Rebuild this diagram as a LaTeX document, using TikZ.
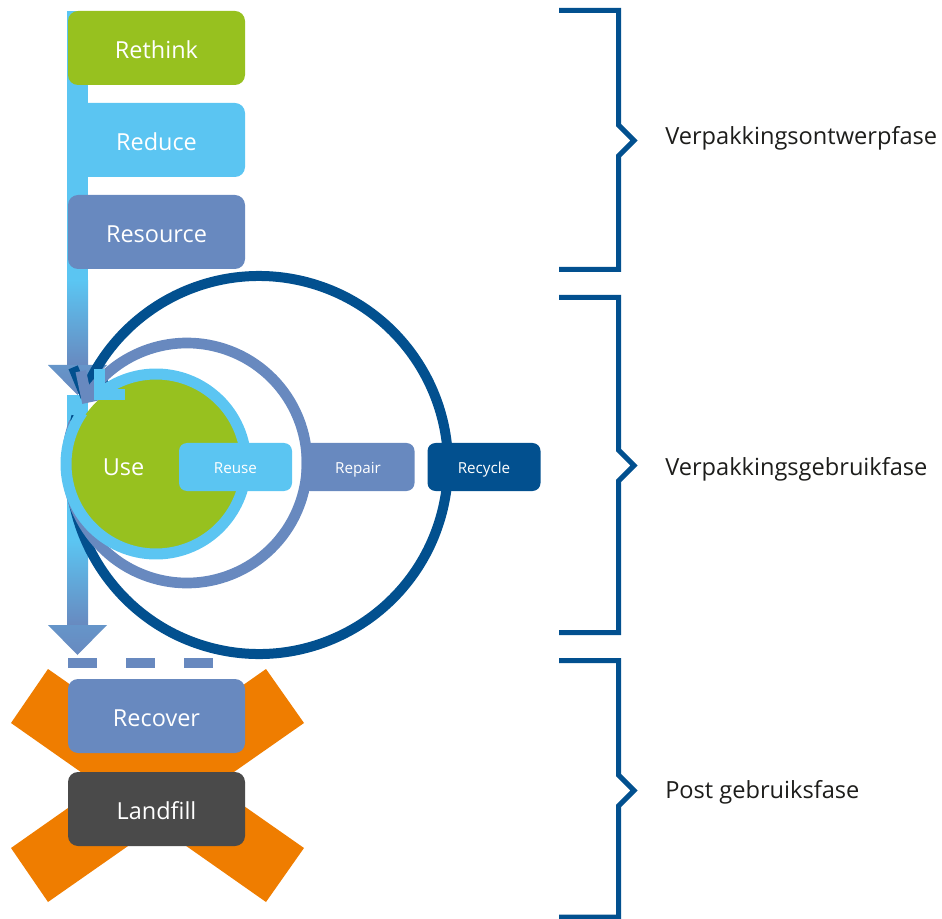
\documentclass[tikz,border=0pt]{standalone}
\usepackage{fontspec}
\setmainfont{Open Sans}
\usetikzlibrary{calc}
\definecolor{cgreen}{HTML}{97C11F}
\definecolor{clight}{HTML}{5BC5F2}
\definecolor{cmid}{HTML}{6889BF}
\definecolor{cdark}{HTML}{02508F}
\definecolor{corange}{HTML}{EF7D00}
\definecolor{cgrey}{HTML}{4A4A4A}
\definecolor{ctext}{HTML}{1D1D1B}
\tikzset{
  bigbox/.style={rounded corners=7.5pt, minimum width=132.75pt, minimum height=55.5pt,
    text=white, font=\fontsize{17.6}{20}\selectfont, inner sep=0pt,
    text height=15.5pt, text depth=0pt},
  smallbox/.style={rounded corners=6pt, minimum width=84.75pt, minimum height=36pt,
    text=white, font=\fontsize{11.4}{13}\selectfont, inner sep=0pt,
    text height=10.3pt, text depth=0pt},
  phase/.style={anchor=west, text=ctext, font=\fontsize{17.7}{20}\selectfont,
    inner sep=0pt, text height=12.6pt, text depth=0pt},
  bracket/.style={cdark, line width=3.75pt, line join=miter},
  chev/.style={line join=miter, miter limit=10}
}
\begin{document}
\begin{tikzpicture}[x=0.75pt,y=0.75pt]
\useasboundingbox (0,0) rectangle (942,-919);

% vertical flow arrow (top part)
\fill[clight] (67,-11) rectangle (88,-282);
\shade[top color=clight, bottom color=cmid] (67,-281) rectangle (88,-366);
\shade[top color=cmid!80!clight, bottom color=cmid] (48,-365) -- (107,-365) -- (77.5,-395) -- cycle;
% vertical flow arrow (bottom part)
\fill[clight] (67,-395) rectangle (88,-541);
\shade[top color=clight, bottom color=cmid] (67,-540) rectangle (88,-626);
\shade[top color=cmid!80!clight, bottom color=cmid] (48,-625) -- (107,-625) -- (77.5,-655) -- cycle;

% design phase boxes
\node[bigbox, fill=cgreen] (rethink) at (156.5,-48) {Rethink};
\node[bigbox, fill=clight] (reduce) at (156.5,-140) {Reduce};
\node[bigbox, fill=cmid] (resource) at (156.5,-232) {Resource};

% recycle loop
\coordinate (cR) at (259,-465);
\draw[cdark, line width=7.5pt] ($(cR)+(165:189)$) arc[start angle=165, end angle=517.5, radius=189];
\coordinate (dk) at (83.5,-392.3);
\draw[cdark, line width=7.5pt, chev] ($(dk)+(112.5:27)$) -- (dk) -- ($(dk)+(22.5:27)$);

% repair loop
\coordinate (cP) at (187,-463);
\draw[cmid, line width=8pt] ($(cP)+(160:120)$) arc[start angle=160, end angle=507, radius=120];
\coordinate (md) at (86.4,-397.6);
\draw[cmid, line width=8pt, chev] ($(md)+(102:27)$) -- (md) -- ($(md)+(12:27)$);

% use / reuse loop
\coordinate (cU) at (156,-464);
\fill[cgreen] (cU) circle[radius=86];
\draw[clight, line width=8.25pt] ($(cU)+(145:90)$) arc[start angle=145, end angle=490, radius=90];
\coordinate (lt) at (99,-395);
\draw[clight, line width=8.25pt, chev] (99,-369) -- (lt) -- (125,-395);

\node[text=white, font=\fontsize{17.6}{20}\selectfont, inner sep=0pt, text height=12.5pt, text depth=0pt] (use) at (123.5,-467) {Use};
\node[smallbox, fill=clight] (reuse) at (235.5,-467) {Reuse};
\node[smallbox, fill=cmid] (repair) at (358,-467) {Repair};
\node[smallbox, fill=cdark] (recycle) at (484,-467) {Recycle};

% dashed continuation
\fill[cmid] (68,-658) rectangle (97,-668);
\fill[cmid] (126,-658) rectangle (155,-668);
\fill[cmid] (184,-658) rectangle (213,-668);

% orange cross
\fill[corange] (48,-669) -- (11,-723) -- (266,-902) -- (304,-848) -- cycle;
\fill[corange] (266,-669) -- (304,-723) -- (48,-902) -- (11,-848) -- cycle;

\node[bigbox, fill=cmid] (recover) at (156.5,-716) {Recover};
\node[bigbox, fill=cgrey] (landfill) at (156.5,-809) {Landfill};

% brackets
\draw[bracket] (559,-10.5) -- (618.5,-10.5) -- (618.5,-125) -- (634,-140.5) -- (618.5,-156) -- (618.5,-269.5) -- (559,-269.5);
\draw[bracket] (559,-297.5) -- (618.5,-297.5) -- (618.5,-450) -- (634,-465.5) -- (618.5,-481) -- (618.5,-632.5) -- (559,-632.5);
\draw[bracket] (559,-660.5) -- (618.5,-660.5) -- (618.5,-775) -- (634,-790.5) -- (618.5,-806) -- (618.5,-917) -- (559,-917);

\node[phase] (ph1) at (665,-136.5) {Verpakkingsontwerpfase};
\node[phase] (ph2) at (665,-467) {Verpakkingsgebruikfase};
\node[phase] (ph3) at (665,-790) {Post gebruiksfase};
\end{tikzpicture}
\end{document}
